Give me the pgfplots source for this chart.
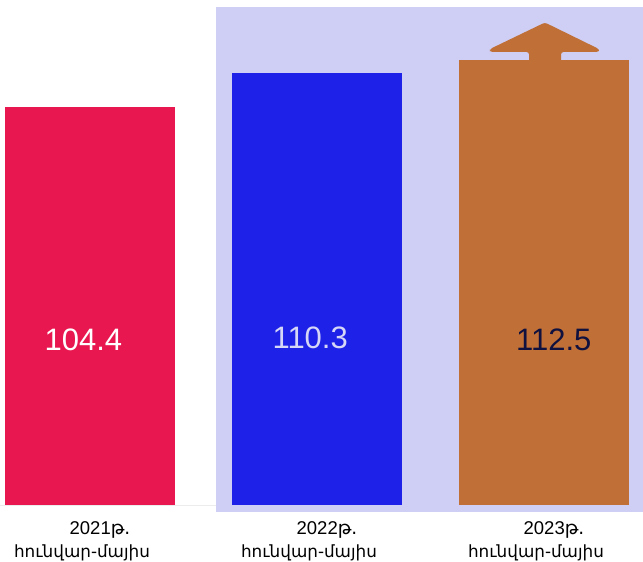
\documentclass[border=0pt]{standalone}
\usepackage{fontspec}
\setmainfont{Liberation Sans}
\newfontfamily\armfont{DejaVu Sans}
\usepackage{pgfplots}
\pgfplotsset{compat=1.18}
\definecolor{barA}{HTML}{E8174F}
\definecolor{barB}{HTML}{1E22E8}
\definecolor{barC}{HTML}{C07036}
\definecolor{lav}{HTML}{CFCEF4}
\definecolor{txtB}{HTML}{D6D6F6}
\definecolor{txtC}{HTML}{10113F}
\newcommand{\arm}[1]{{\armfont\fontsize{16.8bp}{23.3bp}\selectfont #1}}
\begin{document}
\begin{tikzpicture}
\begin{axis}[scale only axis,
  width=643bp, height=505bp,
  xmin=-0.3965, xmax=2.4361, ymin=36.1, ymax=122.87,
  ybar, bar width=0.749,
  axis y line=none, axis x line*=bottom,
  x axis line style={draw=gray!15, line width=1pt, -},
  xtick={0,1,2},
  xticklabels={{\hspace*{36bp}2021{\armfont թ.}\\\arm{հունվար-մայիս}},
               {\hspace*{36bp}2022{\armfont թ.}\\\arm{հունվար-մայիս}},
               {\hspace*{36bp}2023{\armfont թ.}\\\arm{հունվար-մայիս}}},
  major tick length=0pt,
  xticklabel style={align=center, font=\fontsize{18.5bp}{23.3bp}\selectfont, xshift=-8bp, yshift=-13bp, text=black},
  clip mode=individual,
]
\coordinate (BBa) at (axis cs:-0.3965,122.87);
\coordinate (BBb) at (axis cs:2.4361,26.31);
\fill[lav] (axis cs:0.555,121.67) rectangle (axis cs:2.4361,34.90);
\addplot[fill=barA, draw=none, bar shift=0pt] coordinates {(0,104.4)};
\addplot[fill=barB, draw=none, bar shift=0pt] coordinates {(1,110.3)};
\addplot[fill=barC, draw=none, bar shift=0pt] coordinates {(2,112.5)};
\fill[barC, rounded corners=2.5bp] (axis cs:1.934,112.0) -- (axis cs:1.934,113.94) -- (axis cs:1.762,113.94) -- (axis cs:1.762,114.45) -- (axis cs:2.004,119.0) -- (axis cs:2.242,114.45) -- (axis cs:2.242,113.94) -- (axis cs:2.075,113.94) -- (axis cs:2.075,112.0) -- cycle;
\node[text=white, font=\fontsize{31bp}{36bp}\selectfont] at (axis cs:-0.029,64.45) {104.4};
\node[text=txtB, font=\fontsize{31bp}{36bp}\selectfont] at (axis cs:0.970,64.85) {110.3};
\node[text=txtC, font=\fontsize{31bp}{36bp}\selectfont] at (axis cs:2.043,64.45) {112.5};
\end{axis}
\pgfresetboundingbox
\path[use as bounding box] (BBa) rectangle (BBb);
\end{tikzpicture}
\end{document}
